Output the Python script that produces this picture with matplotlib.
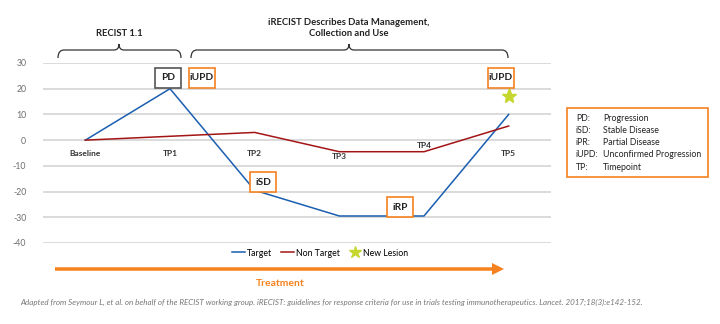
import matplotlib
matplotlib.use("Agg")
import matplotlib.pyplot as plt
from matplotlib.path import Path
from matplotlib.patches import PathPatch, FancyArrow, Rectangle
from matplotlib.lines import Line2D
import matplotlib.transforms as mtransforms

plt.rcParams['font.family'] = ['Lato', 'DejaVu Sans']

categories = ["Baseline", "TP1", "TP2", "TP3", "TP4", "TP5"]
target = [0, 20, -19.5, -29.5, -29.5, 10]
non_target = [0, 1.5, 3, -4.5, -4.5, 5.5]
new_lesion_cat = 5
new_lesion_val = 17
yticks = [30, 20, 10, 0, -10, -20, -30, -40]

BLUE = "#1a5eb0"
RED = "#a31515"
ORANGE = "#f5821f"
GRID = "#d4d4d4"
STAR = "#c5d62c"

W, H = 720, 324
fig = plt.figure(figsize=(W / 100, H / 100), dpi=100)
px = mtransforms.Affine2D().scale(1 / W, -1 / H).translate(0, 1) + fig.transFigure

ax = fig.add_axes([43 / W, 1 - 243 / H, (551 - 43) / W, (243 - 63) / H])
x = list(range(len(categories)))
ax.set_xlim(-0.5, len(categories) - 0.5)
ax.set_ylim(-40, 30)
ax.set_yticks(yticks)
ax.set_yticklabels([str(v) for v in yticks])
ax.tick_params(axis='y', length=0, labelsize=6.3, labelcolor="#6e6e6e", pad=12)
ax.set_xticks([])
for s in ax.spines.values():
    s.set_visible(False)
ax.yaxis.grid(True, color=GRID, linewidth=1.2)
ax.set_axisbelow(True)

ax.plot(x, target, color=BLUE, lw=1.1, clip_on=False, zorder=3)
ax.plot(x, non_target, color=RED, lw=1.1, clip_on=False, zorder=3)
ax.plot([new_lesion_cat], [new_lesion_val], marker='*', color=STAR, ms=11,
        linestyle='none', clip_on=False, zorder=4)

# category labels (placed near the zero line)
label_y = [-5, -5, -5, -6.3, -2, -5]
for i, c in enumerate(categories):
    ax.text(i, label_y[i], c, ha='center', va='center', fontsize=6, color="#333333",
            fontweight='bold')

# status boxes (fixed size, positioned in pixel space)
def box(cx, cy, text, ec, w=26, h=20):
    fig.patches.append(Rectangle((cx - w / 2, cy - h / 2), w, h, transform=px,
                                 fc='white', ec=ec, lw=1.2, zorder=5))
    fig.text(cx / W, 1 - cy / H, text, ha='center', va='center', fontsize=7.3,
             color="#222222", fontweight='bold', zorder=6)

box(168, 78, "PD", "#555555")
box(202, 78, "iUPD", ORANGE)
box(501, 78, "iUPD", ORANGE)
box(263, 182, "iSD", ORANGE)
box(400, 207, "iRP", ORANGE)

# braces
def brace(x0, x1, xm, ytop=50, ybot=58, ypk=44):
    verts = [(x0, ybot), (x0, ytop), (x0 + 6, ytop), (xm - 5, ytop),
             (xm, ytop), (xm, ypk), (xm, ytop), (xm + 5, ytop),
             (x1 - 6, ytop), (x1, ytop), (x1, ybot)]
    codes = [Path.MOVETO, Path.CURVE3, Path.CURVE3, Path.LINETO,
             Path.CURVE3, Path.CURVE3, Path.CURVE3, Path.CURVE3,
             Path.LINETO, Path.CURVE3, Path.CURVE3]
    fig.patches.append(PathPatch(Path(verts, codes), transform=px, fill=False,
                                 ec="#333333", lw=0.9))

brace(58, 181, 119)
brace(191, 508, 349)
fig.text(119 / W, 1 - 34 / H, "RECIST 1.1", ha='center', va='center', fontsize=6.8,
         color="#222222", fontweight='bold')
fig.text(349 / W, 1 - 28 / H, "iRECIST Describes Data Management,\nCollection and Use",
         ha='center', va='center', fontsize=6.8, color="#222222", fontweight='bold',
         linespacing=1.25)

# abbreviations box
abbr = [("PD:", "Progression"), ("iSD:", "Stable Disease"), ("iPR:", "Partial Disease"),
        ("iUPD:", "Unconfirmed Progression"), ("TP:", "Timepoint")]
fig.patches.append(Rectangle((567 / W, 1 - 177 / H), (708 - 567) / W, (177 - 108) / H,
                             transform=fig.transFigure, fill=False, ec=ORANGE, lw=1.2))
for i, (a, b) in enumerate(abbr):
    yy = 118 + i * 12.3
    fig.text(576 / W, 1 - yy / H, a, ha='left', va='center', fontsize=6.3, color="#222222")
    fig.text(603 / W, 1 - yy / H, b, ha='left', va='center', fontsize=6.3, color="#222222")

# bottom legend
handles = [Line2D([], [], color=BLUE, lw=1.1),
           Line2D([], [], color=RED, lw=1.1),
           Line2D([], [], marker='*', color=STAR, ms=9, linestyle='none')]
fig.legend(handles, ["Target", "Non Target", "New Lesion"], ncol=3, frameon=False,
           loc='center', bbox_to_anchor=(320 / W, 1 - 253 / H), fontsize=6.3,
           handlelength=1.5, handletextpad=0.2, columnspacing=1.0)

# treatment arrow
fig.patches.append(FancyArrow(55 / W, 1 - 269 / H, (492 - 55) / W, 0, width=3.5 / H,
                              head_width=12 / H, head_length=12 / W, length_includes_head=False,
                              transform=fig.transFigure, color=ORANGE, lw=0))
fig.text(280 / W, 1 - 283 / H, "Treatment", ha='center', va='center', fontsize=7.5,
         color=ORANGE, fontweight='bold')

fig.text(20 / W, 1 - 302 / H,
         "Adapted from Seymour L, et al. on behalf of the RECIST working group. iRECIST: guidelines for response criteria for use in trials testing immunotherapeutics. Lancet. 2017;18(3):e142-152.",
         ha='left', va='center', fontsize=5.8, color="#777777", style='italic')

fig.savefig("out.png", dpi=100)
